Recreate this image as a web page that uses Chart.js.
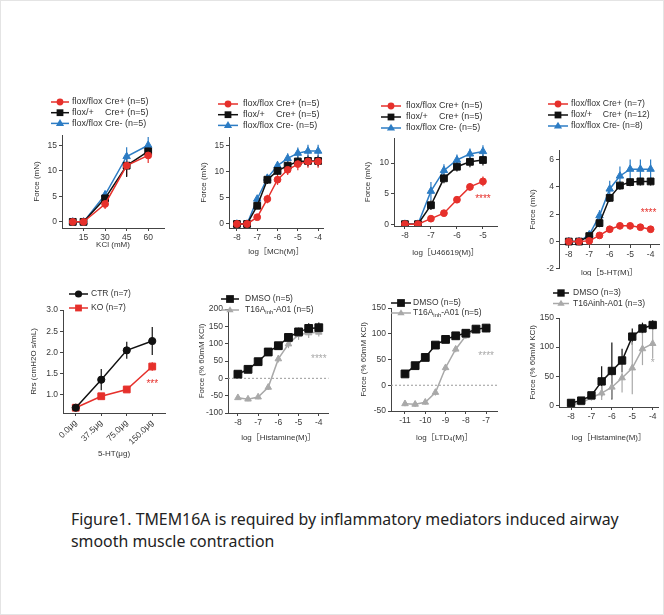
<!DOCTYPE html>
<html>
<head>
<meta charset="utf-8">
<script src="https://cdn.jsdelivr.net/npm/chart.js@4.4.0/dist/chart.umd.min.js"></script>
<style>
  body { margin: 0; background: #fff; }
  #page { position: relative; width: 664px; height: 615px; overflow: hidden; background: #fff; box-sizing: border-box; border: 1px solid #e4e4e4; }
  #page canvas { position: absolute; }
  #caption { position: absolute; left: 70px; top: 507px; font-family: "Noto Sans", sans-serif; font-size: 15.9px; line-height: 22px; color: #222; }
</style>
</head>
<body>
<div id="page">
  <div id="caption">Figure1. TMEM16A is required by inflammatory mediators induced airway<br>smooth muscle contraction</div>
</div>
<script>
// colours
const RED = '#e6302b', BLACK = '#111111', BLUE = '#2c7cc4', GREY = '#a9a9a9';
const AXIS = '#444';
const FONT = '"Liberation Sans", "Noto Sans CJK SC", sans-serif';

// A - KCl
const kclDose = [7.5, 15, 30, 45, 60];
const kclTicks = [15, 30, 45, 60];
const kclRed = [0, 0, 3.5, 11.0, 13.0];
const kclRedErr = [0.2, 0.2, 1.0, 2.0, 1.5];
const kclBlack = [0, 0, 4.6, 11.0, 13.8];
const kclBlackErr = [0.2, 0.2, 0.8, 2.2, 1.4];
const kclBlue = [0, 0, 5.3, 12.8, 15.0];
const kclBlueErr = [0.2, 0.2, 0.8, 1.8, 1.6];
const forceTicks15 = [0, 5, 10, 15];

// shared log doses
const logDose8to4 = [-8, -7.5, -7, -6.5, -6, -5.5, -5, -4.5, -4];
const logTicks8to4 = [-8, -7, -6, -5, -4];

// B - MCh
const mchRed = [0, 0, 1.3, 4.8, 8.5, 10.4, 11.5, 12.0, 12.0];
const mchRedErr = [0.2, 0.2, 0.5, 0.8, 1.0, 1.0, 1.2, 1.2, 1.2];
const mchBlack = [0, 0, 3.5, 8.5, 10.2, 11.2, 12.0, 12.1, 12.1];
const mchBlackErr = [0.2, 0.2, 0.6, 0.8, 0.8, 0.9, 1.0, 1.0, 1.0];
const mchBlue = [0, 0, 4.8, 8.8, 11.2, 12.6, 13.6, 14.0, 14.0];
const mchBlueErr = [0.2, 0.2, 0.6, 0.8, 0.9, 1.0, 1.1, 1.2, 1.2];

// C - U46619
const u466Dose = [-8, -7.5, -7, -6.5, -6, -5.5, -5];
const u466Ticks = [-8, -7, -6, -5];
const u466Red = [0, 0, 0.9, 1.8, 4.0, 6.1, 7.0];
const u466RedErr = [0.1, 0.1, 0.3, 0.3, 0.5, 0.6, 0.8];
const u466Black = [0, 0, 3.1, 7.5, 9.4, 10.2, 10.5];
const u466BlackErr = [0.1, 0.1, 0.8, 0.8, 0.8, 0.9, 0.9];
const u466Blue = [0, 0, 5.4, 8.8, 10.5, 11.5, 11.9];
const u466BlueErr = [0.1, 0.1, 1.5, 1.0, 0.9, 0.9, 1.0];
const forceTicks10 = [0, 5, 10];

// D - 5-HT
const htRed = [0, 0, 0.05, 0.45, 0.9, 1.15, 1.15, 1.05, 0.9];
const htRedErr = [0.05, 0.05, 0.1, 0.1, 0.15, 0.15, 0.15, 0.15, 0.15];
const htBlack = [0, 0, 0.4, 1.35, 3.2, 4.1, 4.35, 4.4, 4.4];
const htBlackErr = [0.05, 0.05, 0.15, 0.3, 0.3, 0.3, 0.3, 0.3, 0.3];
const htBlue = [0, 0, 0.5, 1.9, 3.85, 4.8, 5.3, 5.3, 5.3];
const htBlueErr = [0.05, 0.05, 0.2, 0.4, 0.6, 0.7, 0.7, 0.7, 0.7];
const forceTicksD = [-2, 0, 2, 4, 6];

// E - airway resistance
const rrsDoseLabels = ['0.0μg', '37.5μg', '75.0μg', '150.0μg'];
const rrsDoseIndex = [0, 1, 2, 3];
const rrsCtr = [0.70, 1.36, 2.05, 2.27];
const rrsCtrErr = [0.04, 0.25, 0.2, 0.33];
const rrsKo = [0.70, 0.97, 1.13, 1.67];
const rrsKoErr = [0.03, 0.05, 0.05, 0.1];
const rrsTicks = [1.0, 1.5, 2.0, 2.5, 3.0];

// F - histamine, DMSO vs T16Ainh-A01
const histFDmso = [12, 26, 48, 76, 94, 118, 134, 144, 146];
const histFDmsoErr = [3, 3, 4, 5, 6, 10, 12, 15, 15];
const histFT16 = [-56, -60, -54, -26, 56, 99, 126, 131, 133];
const histFT16Err = [6, 6, 6, 8, 10, 12, 15, 15, 12];
const pctTicksF = [-100, -50, 0, 50, 100, 150, 200];

// G - LTD4
const ltdDose = [-11, -10.5, -10, -9.5, -9, -8.5, -8, -7.5, -7];
const ltdTicks = [-11, -10, -9, -8, -7];
const ltdDmso = [22, 38, 54, 78, 89, 96, 101, 109, 111];
const ltdDmsoErr = [4, 4, 5, 5, 5, 5, 5, 6, 6];
const ltdT16 = [-36, -37, -33, -14, 34, 70, 96, 109, 111];
const ltdT16Err = [5, 5, 5, 6, 6, 6, 6, 8, 8];
const pctTicksG = [-50, 0, 50, 100, 150];

// H - histamine, n=3
const histHDmso = [4, 8, 17, 41, 59, 77, 118, 132, 138];
const histHDmsoErr = [2, 3, 5, 26, 49, 20, 14, 10, 8];
const histHT16 = [1, 4, 13, 21, 31, 47, 64, 97, 106];
const histHT16Err = [2, 3, 5, 12, 20, 25, 45, 28, 25];
const pctTicksH = [0, 50, 100, 150];

const floxLabels5 = ['flox/flox Cre+ (n=5)', 'flox/+\tCre+ (n=5)', 'flox/flox Cre- (n=5)'];
const floxLabelsD = ['flox/flox Cre+ (n=7)', 'flox/+\tCre+ (n=12)', 'flox/flox Cre- (n=8)'];

function series(xs, ys, errs, color, style, r) {
    return {
        data: xs.map((x, i) => ({ x: x, y: ys[i] })),
        errors: errs,
        borderColor: color,
        backgroundColor: color,
        pointStyle: style,
        pointRadius: r,
        pointBorderWidth: 1,
        borderWidth: 1.5,
        tension: 0,
    };
}

function drawMarker(ctx, style, x, y, r) {
    ctx.beginPath();
    if (style === 'circle') {
        ctx.arc(x, y, r, 0, Math.PI * 2);
    } else if (style === 'rect') {
        const s = r * Math.SQRT1_2;
        ctx.rect(x - s, y - s, 2 * s, 2 * s);
    } else {
        ctx.moveTo(x, y - r);
        ctx.lineTo(x + r * 0.95, y + r * 0.6);
        ctx.lineTo(x - r * 0.95, y + r * 0.6);
        ctx.closePath();
    }
    ctx.fill();
}

// text with optional tab stop and ~subscript~ parts
function drawRich(ctx, text, x, y, size) {
    let parts = text.split('\t');
    if (parts.length > 1) {
        ctx.fillText(parts[0], x, y);
        ctx.fillText(parts[1], x + ctx.measureText('flox/flox ').width, y);
        return;
    }
    const segs = text.split('~');
    let cx = x;
    segs.forEach((s, i) => {
        if (i % 2 === 1) {
            ctx.font = (size * 0.7) + 'px ' + FONT;
            ctx.fillText(s, cx, y + 2);
        } else {
            ctx.font = size + 'px ' + FONT;
            ctx.fillText(s, cx, y);
        }
        cx += ctx.measureText(s).width;
    });
    ctx.font = size + 'px ' + FONT;
}

const errorBars = {
    id: 'errorBars',
    beforeDatasetsDraw(chart) {
        const { ctx } = chart;
        const x = chart.scales.x, y = chart.scales.y;
        chart.data.datasets.forEach(ds => {
            if (!ds.errors) return;
            ctx.save();
            ctx.strokeStyle = ds.borderColor;
            ctx.lineWidth = 1.2;
            ds.data.forEach((pt, i) => {
                const e = ds.errors[i];
                if (!e) return;
                const px = x.getPixelForValue(pt.x);
                ctx.beginPath();
                ctx.moveTo(px, y.getPixelForValue(pt.y - e));
                ctx.lineTo(px, y.getPixelForValue(pt.y + e));
                ctx.stroke();
            });
            ctx.restore();
        });
    }
};

function decoPlugin(p, ox, oy) {
    return {
        id: 'deco',
        beforeDatasetsDraw(chart) {
            if (!p.zero) return;
            const { ctx, chartArea } = chart;
            const py = chart.scales.y.getPixelForValue(0);
            ctx.save();
            ctx.strokeStyle = '#9a9a9a';
            ctx.lineWidth = 1;
            ctx.setLineDash([2, 2]);
            ctx.beginPath();
            ctx.moveTo(chartArea.left, py);
            ctx.lineTo(chartArea.right, py);
            ctx.stroke();
            ctx.restore();
        },
        afterDraw(chart) {
            const ctx = chart.ctx;
            ctx.save();
            ctx.textBaseline = 'middle';
            // panel letter
            ctx.font = 'bold 11px ' + FONT;
            ctx.fillStyle = '#111';
            ctx.fillText(p.letter.t, p.letter.x - ox, p.letter.y - oy);
            // legend
            const lg = p.legend;
            const size = lg.size || 9;
            ctx.font = size + 'px ' + FONT;
            chart.data.datasets.forEach((ds, i) => {
                const y = lg.y + i * lg.dy - oy;
                const x0 = lg.x - ox;
                ctx.strokeStyle = ds.borderColor;
                ctx.lineWidth = 1.5;
                ctx.beginPath();
                ctx.moveTo(x0, y);
                ctx.lineTo(x0 + lg.len, y);
                ctx.stroke();
                ctx.fillStyle = ds.borderColor;
                drawMarker(ctx, ds.pointStyle, x0 + lg.len / 2, y, ds.pointRadius);
                ctx.fillStyle = '#333';
                drawRich(ctx, lg.labels[i], lg.tx - ox, y, size);
            });
            // significance stars
            if (p.stars) {
                ctx.font = '10px ' + FONT;
                ctx.fillStyle = p.stars.color;
                ctx.textAlign = 'center';
                ctx.fillText(p.stars.t, chart.scales.x.getPixelForValue(p.stars.x), chart.scales.y.getPixelForValue(p.stars.y));
            }
            ctx.restore();
        }
    };
}

const page = document.getElementById('page');

function makePanel(p) {
    const lh = 9.6;
    const left = Math.round(p.yTitleX - lh / 2);
    const top = p.top;
    const right = p.right || p.R + 6;
    const axisPix = p.xAxisAt != null
        ? p.B - (p.xAxisAt - p.yMin) / (p.yMax - p.yMin) * (p.B - p.T)
        : p.B;
    const xH = Math.round(p.xTitleY + lh / 2 - axisPix);
    const yW = p.L - left;
    const W = right - left, H = p.B + xH - top;
    const canvas = document.createElement('canvas');
    canvas.width = W;
    canvas.height = H;
    canvas.style.left = left + 'px';
    canvas.style.top = top + 'px';
    page.appendChild(canvas);

    const tickFont = { family: FONT, size: 8.5 };
    const titleFont = { family: FONT, size: 8, lineHeight: 1.2 };

    new Chart(canvas, {
        type: 'line',
        data: { datasets: p.datasets },
        options: {
            responsive: false,
            animation: false,
            devicePixelRatio: 1,
            layout: { padding: { top: p.T - top, right: right - p.R, left: 0, bottom: 0 } },
            plugins: { legend: { display: false }, tooltip: { enabled: false } },
            scales: {
                x: {
                    type: 'linear',
                    min: p.xMin,
                    max: p.xMax,
                    position: p.xAxisAt != null ? { y: p.xAxisAt } : 'bottom',
                    afterBuildTicks: s => { s.ticks = p.xTicks.map(v => ({ value: v })); },
                    afterFit: s => { s.height = xH; },
                    ticks: {
                        font: tickFont, color: '#3a3a3a', padding: 2, autoSkip: false,
                        maxRotation: p.xRot || 0, minRotation: p.xRot || 0,
                        callback: p.xFmt || (v => String(v)),
                    },
                    grid: { drawOnChartArea: false, tickLength: 3, color: AXIS },
                    border: { color: AXIS },
                    title: { display: true, text: p.xTitle, font: titleFont, color: '#333', padding: 0 },
                },
                y: {
                    type: 'linear',
                    min: p.yMin,
                    max: p.yMax,
                    afterBuildTicks: s => { s.ticks = p.yTicks.map(v => ({ value: v })); },
                    afterFit: s => { s.width = yW; },
                    ticks: { font: tickFont, color: '#3a3a3a', padding: 2, callback: p.yFmt || (v => String(v)) },
                    grid: { drawOnChartArea: false, tickLength: 3, color: AXIS },
                    border: { color: AXIS },
                    title: { display: true, text: p.yTitle, font: titleFont, color: '#333', padding: 0 },
                },
            },
        },
        plugins: [errorBars, decoPlugin(p, left, top)],
    });
}

// Panel A
makePanel({
    L: 61, T: 134, R: 163, B: 227, top: 84,
    xMin: 0, xMax: 71, yMin: -1.2, yMax: 17,
    xTicks: kclTicks, yTicks: forceTicks15,
    xTitle: 'KCl (mM)', yTitle: 'Force (mN)', yTitleX: 36, xTitleY: 244,
    letter: { t: 'A', x: 21, y: 91 },
    legend: { x: 50, y: 101, dy: 10.7, len: 18, tx: 71, labels: floxLabels5 },
    datasets: [
        series(kclDose, kclRed, kclRedErr, RED, 'circle', 3.4),
        series(kclDose, kclBlack, kclBlackErr, BLACK, 'rect', 4.8),
        series(kclDose, kclBlue, kclBlueErr, BLUE, 'triangle', 4.3),
    ],
});

// Panel B
makePanel({
    L: 228, T: 136, R: 322, B: 227, top: 84,
    xMin: -8.39, xMax: -3.76, yMin: -0.77, yMax: 16.7,
    xTicks: logTicks8to4, yTicks: forceTicks15,
    xTitle: 'log［MCh(M)］', yTitle: 'Force (mN)', yTitleX: 203, xTitleY: 251,
    letter: { t: 'B', x: 186, y: 93 },
    legend: { x: 217, y: 103, dy: 10.7, len: 20, tx: 242, labels: floxLabels5 },
    datasets: [
        series(logDose8to4, mchRed, mchRedErr, RED, 'circle', 3.4),
        series(logDose8to4, mchBlack, mchBlackErr, BLACK, 'rect', 4.8),
        series(logDose8to4, mchBlue, mchBlueErr, BLUE, 'triangle', 4.3),
    ],
});

// Panel C
makePanel({
    L: 393, T: 137, R: 496, B: 225, top: 84,
    xMin: -8.42, xMax: -4.46, yMin: -0.3, yMax: 14.1,
    xTicks: u466Ticks, yTicks: forceTicks10,
    xTitle: 'log［U46619(M)］', yTitle: 'Force (mN)', yTitleX: 367, xTitleY: 252,
    letter: { t: 'C', x: 344, y: 93 },
    legend: { x: 380, y: 105, dy: 11, len: 20, tx: 405, labels: floxLabels5 },
    stars: { t: '****', x: -5, y: 4.1, color: RED },
    datasets: [
        series(u466Dose, u466Red, u466RedErr, RED, 'circle', 3.4),
        series(u466Dose, u466Black, u466BlackErr, BLACK, 'rect', 4.8),
        series(u466Dose, u466Blue, u466BlueErr, BLUE, 'triangle', 4.3),
    ],
});

// Panel D
makePanel({
    L: 558, T: 149, R: 659, B: 242, top: 84, right: 664,
    xMin: -8.48, xMax: -3.58, yMin: -2, yMax: 6.7, xAxisAt: -0.2,
    xTicks: logTicks8to4, yTicks: forceTicksD,
    xTitle: 'log［5-HT(M)］', yTitle: 'Force (mN)', yTitleX: 532, xTitleY: 251,
    letter: { t: 'D', x: 511, y: 92 },
    legend: { x: 547, y: 103, dy: 11, len: 20, tx: 570, size: 8.7, labels: floxLabelsD },
    stars: { t: '****', x: -4.1, y: 2.1, color: RED },
    datasets: [
        series(logDose8to4, htRed, htRedErr, RED, 'circle', 3.4),
        series(logDose8to4, htBlack, htBlackErr, BLACK, 'rect', 4.8),
        series(logDose8to4, htBlue, htBlueErr, BLUE, 'triangle', 4.3),
    ],
});

// Panel E
makePanel({
    L: 62, T: 309, R: 164, B: 412, top: 270,
    xMin: -0.5, xMax: 3.5, yMin: 0.576, yMax: 3.0, xRot: 45,
    xTicks: rrsDoseIndex, yTicks: rrsTicks,
    xFmt: v => rrsDoseLabels[v], yFmt: v => v.toFixed(1),
    xTitle: '5-HT(μg)', yTitle: 'Rrs (cmH2O s/mL)', yTitleX: 33, xTitleY: 453,
    letter: { t: 'E', x: 20, y: 281 },
    legend: { x: 68, y: 293, dy: 14, len: 19, tx: 90, size: 8.5, labels: ['CTR (n=7)', 'KO (n=7)'] },
    stars: { t: '***', x: 3, y: 1.26, color: RED },
    datasets: [
        series(rrsDoseIndex, rrsCtr, rrsCtrErr, BLACK, 'circle', 3.6),
        series(rrsDoseIndex, rrsKo, rrsKoErr, RED, 'rect', 4.8),
    ],
});

// Panel F
makePanel({
    L: 227, T: 308, R: 328, B: 412, top: 270,
    xMin: -8.49, xMax: -3.52, yMin: -100, yMax: 200, zero: true,
    xTicks: logTicks8to4, yTicks: pctTicksF,
    xTitle: 'log［Histamine(M)］', yTitle: 'Force (% 60mM KCl)', yTitleX: 201, xTitleY: 437,
    letter: { t: 'F', x: 176, y: 283 },
    legend: { x: 220, y: 298, dy: 11, len: 18, tx: 244, size: 8.5, labels: ['DMSO (n=5)', 'T16A~inh~-A01 (n=5)'] },
    stars: { t: '****', x: -4, y: 56, color: GREY },
    datasets: [
        series(logDose8to4, histFDmso, histFDmsoErr, BLACK, 'rect', 5.5),
        series(logDose8to4, histFT16, histFT16Err, GREY, 'triangle', 3.8),
    ],
});

// Panel G
makePanel({
    L: 390, T: 307, R: 497, B: 410, top: 270,
    xMin: -11.69, xMax: -6.44, yMin: -50, yMax: 150, zero: true,
    xTicks: ltdTicks, yTicks: pctTicksG,
    xTitle: 'log［LTD₄(M)］', yTitle: 'Force (% 60mM KCl)', yTitleX: 363, xTitleY: 437,
    letter: { t: 'G', x: 349, y: 283 },
    legend: { x: 390, y: 302, dy: 10, len: 20, tx: 412, size: 8.5, labels: ['DMSO (n=5)', 'T16A~inh~-A01 (n=5)'] },
    stars: { t: '****', x: -7, y: 56, color: GREY },
    datasets: [
        series(ltdDose, ltdDmso, ltdDmsoErr, BLACK, 'rect', 5.5),
        series(ltdDose, ltdT16, ltdT16Err, GREY, 'triangle', 3.8),
    ],
});

// Panel H
makePanel({
    L: 558, T: 317, R: 658, B: 406, top: 270, right: 664,
    xMin: -8.59, xMax: -3.7, yMin: -3, yMax: 150,
    xTicks: logTicks8to4, yTicks: pctTicksH,
    xTitle: 'log［Histamine(M)］', yTitle: 'Force (% 60mM KCl)', yTitleX: 532, xTitleY: 437,
    letter: { t: 'H', x: 511, y: 277 },
    legend: { x: 552, y: 292, dy: 10.5, len: 16, tx: 572, size: 8.5, labels: ['DMSO (n=3)', 'T16Ainh-A01 (n=3)'] },
    stars: { t: '*', x: -4, y: 72, color: GREY },
    datasets: [
        series(logDose8to4, histHDmso, histHDmsoErr, BLACK, 'rect', 5.2),
        series(logDose8to4, histHT16, histHT16Err, GREY, 'triangle', 3.8),
    ],
});
</script>
</body>
</html>
